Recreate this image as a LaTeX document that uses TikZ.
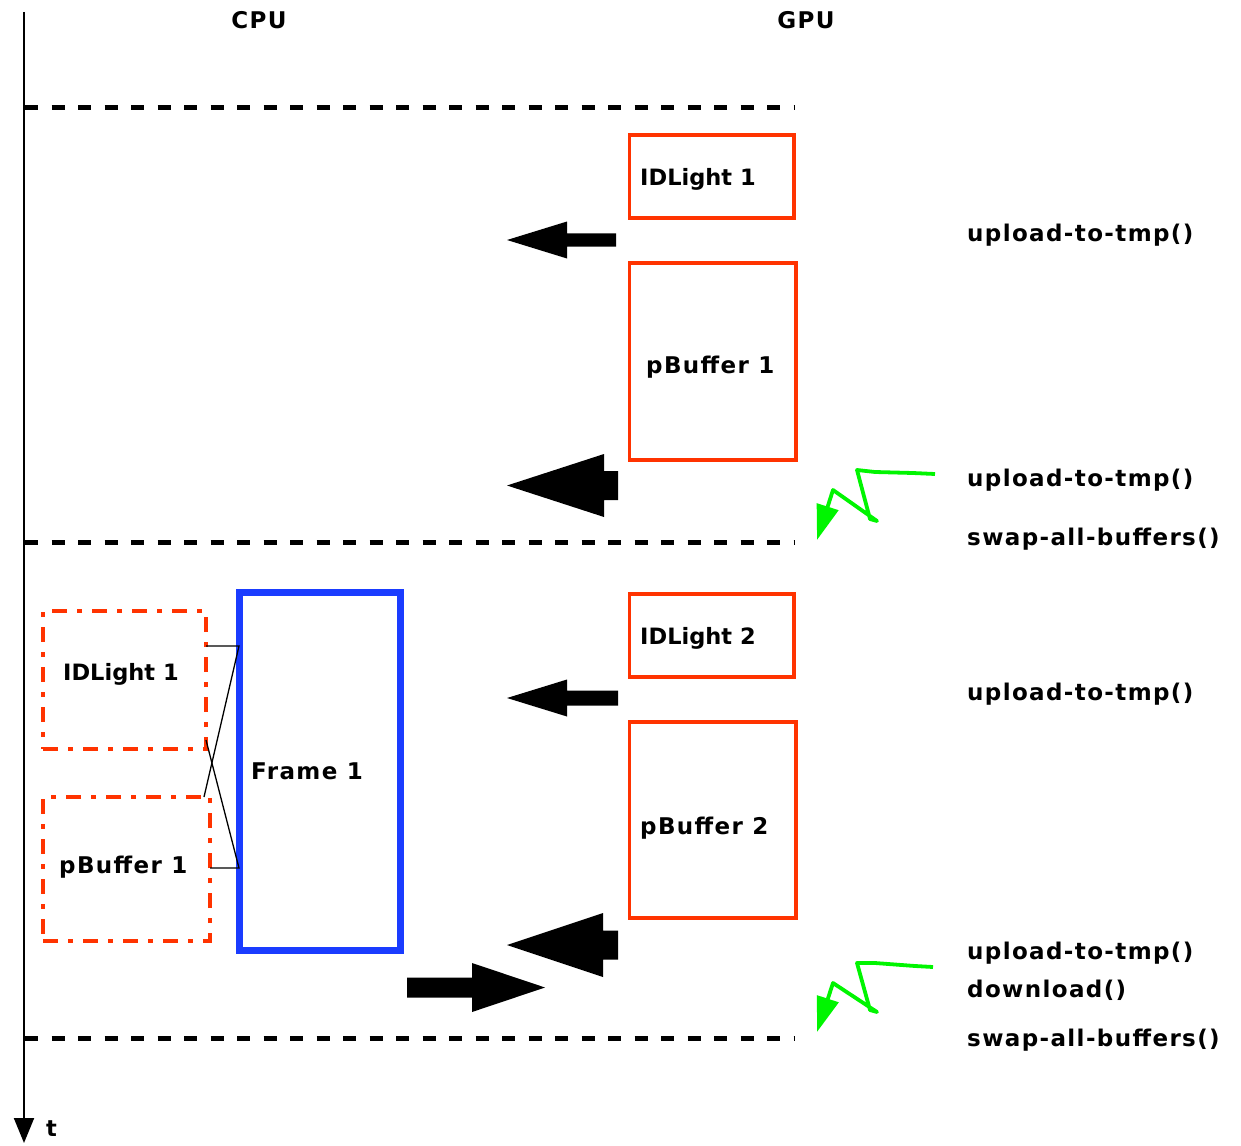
\documentclass[tikz,border=0pt]{standalone}
\usepackage{fontspec}
\setmainfont{DejaVu Sans}
\newfontfamily\spacedfont{DejaVu Sans}[LetterSpace=6]
\usetikzlibrary{arrows.meta}
\definecolor{boxred}{RGB}{255,51,0}
\definecolor{frameblue}{RGB}{26,60,255}
\definecolor{boltgreen}{RGB}{0,245,0}

% filled block arrow: tip x, y, head base x, tail x, half head width, half shaft width
\newcommand\gblockarrow[6]{%
  \fill (#1,#2) -- (#3,#2-#5) -- (#3,#2-#6) -- (#4,#2-#6) -- (#4,#2+#6)
        -- (#3,#2+#6) -- (#3,#2+#5) -- cycle;}

\begin{document}
\begin{tikzpicture}[x=1pt,y=-1pt,
  lbl/.style={font=\spacedfont\bfseries\fontsize{23}{27}\selectfont, inner sep=0pt, anchor=base west},
  tlbl/.style={font=\bfseries\fontsize{22.5}{27}\selectfont, inner sep=0pt, anchor=base west},
  gpubox/.style={draw=boxred, line width=3.5pt, rectangle, outer sep=0pt, inner sep=0pt, anchor=north west},
  cpubox/.style={gpubox, dash pattern=on 15pt off 10pt on 5pt off 10pt},
  framebox/.style={draw=frameblue, line width=7pt, rectangle, outer sep=0pt, inner sep=0pt, anchor=north west},
  sync/.style={line width=5pt, dash pattern=on 13pt off 13.5pt},
  bolt/.style={draw=boltgreen, line width=3.8pt, line join=round, -{Triangle[length=35pt,width=22pt]}},
  link/.style={line width=1.3pt}
]
\useasboundingbox (0,0) rectangle (1241,1145);

% time axis
\coordinate (t0) at (24,12);
\coordinate (t1) at (24,1143);
\draw[line width=2pt, -{Triangle[length=25pt,width=20pt]}] (t0) -- (t1);
\node[tlbl] (tl) at (46,1136) {t};

% column headings
\node[lbl, anchor=base] (cpu) at (259,29) {CPU};
\node[lbl, anchor=base] (gpu) at (806,29) {GPU};

% synchronisation lines
\coordinate (s1a) at (25,108);  \coordinate (s1b) at (795,108);
\coordinate (s2a) at (25,542);  \coordinate (s2b) at (795,542);
\coordinate (s3a) at (25,1038); \coordinate (s3b) at (795,1038);
\draw[sync] (s1a) -- (s1b);
\draw[sync] (s2a) -- (s2b);
\draw[sync] (s3a) -- (s3b);

% GPU buffers, first frame
\node[gpubox, minimum width=164.5pt, minimum height=83pt] (idl1) at (629.5,135) {};
\node[tlbl] (idl1t) at (640,185) {IDLight 1};
\node[gpubox, minimum width=166.5pt, minimum height=197pt] (pb1) at (629.5,263) {};
\node[lbl] (pb1t) at (646,373) {pBuffer 1};

% GPU buffers, second frame
\node[gpubox, minimum width=164.5pt, minimum height=83pt] (idl2) at (629.5,594) {};
\node[tlbl] (idl2t) at (640,644) {IDLight 2};
\node[gpubox, minimum width=166.5pt, minimum height=196pt] (pb2) at (629.5,722) {};
\node[lbl] (pb2t) at (640,834) {pBuffer 2};

% CPU side copies and the frame built from them
\node[cpubox, minimum width=163pt, minimum height=138pt] (idlL) at (43,611) {};
\node[tlbl] (idlLt) at (63,680) {IDLight 1};
\node[cpubox, minimum width=167pt, minimum height=144pt] (pbL) at (43,797) {};
\node[lbl] (pbLt) at (59,873) {pBuffer 1};
\node[framebox, minimum width=161.5pt, minimum height=358pt] (frame) at (239,592) {};
\node[lbl] (framet) at (251,779) {Frame 1};

\coordinate (j1) at (239,646);
\coordinate (j2) at (239,868);
\draw[link] (idlL.east |- j1) -- (j1) -- ([xshift=-6pt]pbL.north east);
\draw[link] (pbL.east |- j2) -- (j2) -- ([yshift=9pt]idlL.south east);

% transfer arrows
\gblockarrow{507}{240}{567}{616}{18.5}{6.7}
\gblockarrow{507}{485.5}{604}{618}{31.5}{14.5}
\gblockarrow{507}{698}{567}{618}{18.5}{7.5}
\gblockarrow{507}{945}{603}{618}{32}{14.5}
\gblockarrow{545}{987.5}{472}{407}{24.5}{10}

% swap signals
\draw[bolt] (935,474) -- (913,473) -- (875,472) -- (857,470) -- (870,519)
  -- (877,521) -- (833,490) -- (817,540);
\draw[bolt] (933,967) -- (915,966) -- (875,963) -- (857,963) -- (870,1010)
  -- (877,1012) -- (833,983) -- (817,1032);

% calls issued each frame
\node[lbl] (c1) at (967,241)  {upload-to-tmp()};
\node[lbl] (c2) at (967,486)  {upload-to-tmp()};
\node[lbl] (c3) at (967,545)  {swap-all-buffers()};
\node[lbl] (c4) at (967,700)  {upload-to-tmp()};
\node[lbl] (c5) at (967,959)  {upload-to-tmp()};
\node[lbl] (c6) at (967,997)  {download()};
\node[lbl] (c7) at (967,1046) {swap-all-buffers()};
\end{tikzpicture}
\end{document}
